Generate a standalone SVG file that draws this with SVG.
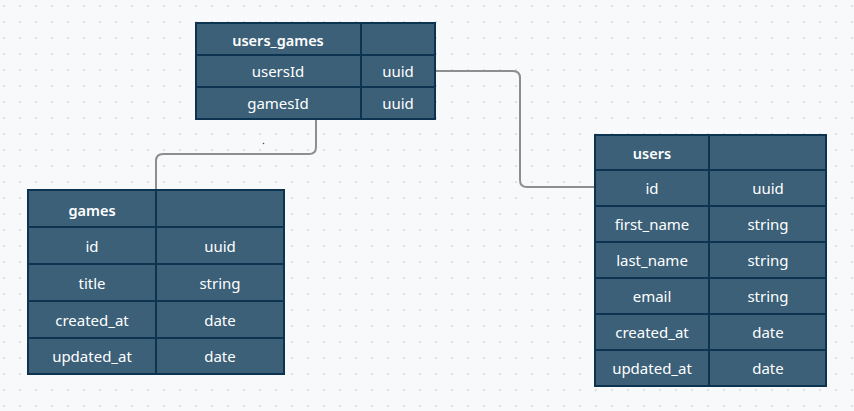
<svg xmlns="http://www.w3.org/2000/svg" width="854" height="411" viewBox="0 0 854 411">
<defs>
<pattern id="grid" x="0" y="0" width="16" height="16" patternUnits="userSpaceOnUse">
<rect x="3" y="5" width="2" height="2" fill="#dfe0e4"/>
</pattern>
<style>
.cell{fill:#3b6078;stroke:#0c3350;stroke-width:2}
.t{font-family:"Noto Sans","Open Sans",sans-serif;font-size:15px;fill:#ffffff;text-anchor:middle;dominant-baseline:central}
.h{font-weight:600;font-size:14.5px}
.conn{fill:none;stroke:#8e8e8e;stroke-width:2}
</style>
</defs>
<rect width="854" height="411" fill="#f8f9fb"/>
<rect width="854" height="411" fill="url(#grid)"/>
<g id="connectors">
<path class="conn" d="M436 71 H513 Q520 71 520 78 V180 Q520 187 527 187 H594"/>
<path class="conn" d="M316 119 V147 Q316 154 309 154 H163 Q156 154 156 161 V190"/>
</g>
<circle cx="263.5" cy="143.5" r="0.8" fill="#555"/>
<g id="users_games">
<rect class="cell" x="196" y="23" width="165" height="32"/>
<rect class="cell" x="361" y="23" width="74" height="32"/>
<rect class="cell" x="196" y="55" width="165" height="32"/>
<rect class="cell" x="361" y="55" width="74" height="32"/>
<rect class="cell" x="196" y="87" width="165" height="32"/>
<rect class="cell" x="361" y="87" width="74" height="32"/>
<text class="t h" x="278" y="40">users_games</text>
<text class="t" x="278" y="71">usersId</text>
<text class="t" x="398" y="71">uuid</text>
<text class="t" x="278" y="103">gamesId</text>
<text class="t" x="398" y="103">uuid</text>
</g>
<g id="games">
<rect class="cell" x="28" y="190" width="128" height="37"/>
<rect class="cell" x="156" y="190" width="128" height="37"/>
<rect class="cell" x="28" y="227" width="128" height="37"/>
<rect class="cell" x="156" y="227" width="128" height="37"/>
<rect class="cell" x="28" y="264" width="128" height="37"/>
<rect class="cell" x="156" y="264" width="128" height="37"/>
<rect class="cell" x="28" y="301" width="128" height="37"/>
<rect class="cell" x="156" y="301" width="128" height="37"/>
<rect class="cell" x="28" y="338" width="128" height="36"/>
<rect class="cell" x="156" y="338" width="128" height="36"/>
<text class="t h" x="92" y="210">games</text>
<text class="t" x="92" y="246">id</text>
<text class="t" x="220" y="246">uuid</text>
<text class="t" x="92" y="283">title</text>
<text class="t" x="220" y="283">string</text>
<text class="t" x="92" y="320">created_at</text>
<text class="t" x="220" y="320">date</text>
<text class="t" x="92" y="356">updated_at</text>
<text class="t" x="220" y="356">date</text>
</g>
<g id="users">
<rect class="cell" x="595" y="135" width="114" height="35"/>
<rect class="cell" x="709" y="135" width="117" height="35"/>
<rect class="cell" x="595" y="170" width="114" height="36"/>
<rect class="cell" x="709" y="170" width="117" height="36"/>
<rect class="cell" x="595" y="206" width="114" height="36"/>
<rect class="cell" x="709" y="206" width="117" height="36"/>
<rect class="cell" x="595" y="242" width="114" height="36"/>
<rect class="cell" x="709" y="242" width="117" height="36"/>
<rect class="cell" x="595" y="278" width="114" height="36"/>
<rect class="cell" x="709" y="278" width="117" height="36"/>
<rect class="cell" x="595" y="314" width="114" height="36"/>
<rect class="cell" x="709" y="314" width="117" height="36"/>
<rect class="cell" x="595" y="350" width="114" height="36"/>
<rect class="cell" x="709" y="350" width="117" height="36"/>
<text class="t h" x="652" y="153">users</text>
<text class="t" x="652" y="188">id</text>
<text class="t" x="768" y="188">uuid</text>
<text class="t" x="652" y="224">first_name</text>
<text class="t" x="768" y="224">string</text>
<text class="t" x="652" y="260">last_name</text>
<text class="t" x="768" y="260">string</text>
<text class="t" x="652" y="296">email</text>
<text class="t" x="768" y="296">string</text>
<text class="t" x="652" y="332">created_at</text>
<text class="t" x="768" y="332">date</text>
<text class="t" x="652" y="368">updated_at</text>
<text class="t" x="768" y="368">date</text>
</g>
</svg>
